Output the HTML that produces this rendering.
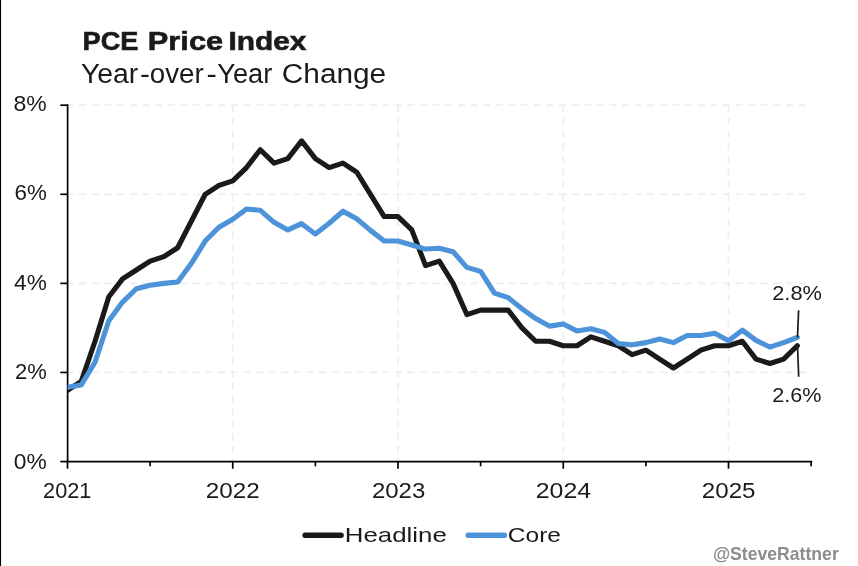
<!DOCTYPE html>
<html><head><meta charset="utf-8"><title>PCE Price Index</title>
<style>
html,body{margin:0;padding:0;background:#fff;}
body{width:858px;height:566px;overflow:hidden;font-family:"Liberation Sans",sans-serif;}
svg{display:block;will-change:transform;}
text{font-family:"Liberation Sans",sans-serif;fill:#1a1a1a;}
</style></head><body>
<svg width="858" height="566" viewBox="0 0 858 566">
<rect x="0" y="0" width="858" height="566" fill="#ffffff"/>
<rect x="0" y="0" width="1" height="566" fill="#000"/>
<rect x="1" y="0" width="1" height="566" fill="#ededed"/>

<g stroke="#eeeeee" stroke-width="1.7" fill="none" stroke-dasharray="7.1 5.52">
<line x1="66.70" y1="372.46" x2="811.50" y2="372.46"/>
<line x1="66.70" y1="283.38" x2="811.50" y2="283.38"/>
<line x1="66.70" y1="194.29" x2="811.50" y2="194.29"/>
<line x1="66.70" y1="105.20" x2="811.50" y2="105.20"/>
<line x1="232.75" y1="105.20" x2="232.75" y2="461.55"/>
<line x1="398.00" y1="105.20" x2="398.00" y2="461.55"/>
<line x1="563.25" y1="105.20" x2="563.25" y2="461.55"/>
<line x1="728.50" y1="105.20" x2="728.50" y2="461.55"/>
</g>
<g stroke="#000" stroke-width="1.7" fill="none">
<line x1="67.60" y1="104.35" x2="67.60" y2="462.40"/>
<line x1="66.75" y1="461.55" x2="812.25" y2="461.55"/>
<line x1="60.30" y1="461.55" x2="67.50" y2="461.55"/>
<line x1="60.30" y1="372.46" x2="67.50" y2="372.46"/>
<line x1="60.30" y1="283.38" x2="67.50" y2="283.38"/>
<line x1="60.30" y1="194.29" x2="67.50" y2="194.29"/>
<line x1="60.30" y1="105.20" x2="67.50" y2="105.20"/>
<line x1="67.50" y1="461.55" x2="67.50" y2="468.70"/>
<line x1="232.75" y1="461.55" x2="232.75" y2="468.70"/>
<line x1="398.00" y1="461.55" x2="398.00" y2="468.70"/>
<line x1="563.25" y1="461.55" x2="563.25" y2="468.70"/>
<line x1="728.50" y1="461.55" x2="728.50" y2="468.70"/>
<line x1="150.12" y1="461.55" x2="150.12" y2="466.30"/>
<line x1="315.38" y1="461.55" x2="315.38" y2="466.30"/>
<line x1="480.62" y1="461.55" x2="480.62" y2="466.30"/>
<line x1="645.88" y1="461.55" x2="645.88" y2="466.30"/>
<line x1="811.12" y1="461.55" x2="811.12" y2="466.30"/>
</g>
<clipPath id="plot"><rect x="67.60" y="102.20" width="760.00" height="359.35"/></clipPath>
<g clip-path="url(#plot)">
<polyline points="67.50,390.28 81.27,381.37 95.04,341.28 108.81,296.74 122.58,278.92 136.35,270.01 150.12,261.10 163.90,256.65 177.67,247.74 191.44,221.01 205.21,194.29 218.98,185.38 232.75,180.92 246.52,167.56 260.29,149.74 274.06,163.11 287.83,158.65 301.60,140.83 315.38,158.65 329.15,167.56 342.92,163.11 356.69,172.02 370.46,194.29 384.23,216.56 398.00,216.56 411.77,229.92 425.54,265.56 439.31,261.10 453.08,283.38 466.85,314.56 480.62,310.10 494.40,310.10 508.17,310.10 521.94,327.92 535.71,341.28 549.48,341.28 563.25,345.74 577.02,345.74 590.79,336.83 604.56,341.28 618.33,345.74 632.10,354.64 645.88,350.19 659.65,359.10 673.42,368.01 687.19,359.10 700.96,350.19 714.73,345.74 728.50,345.74 742.27,341.28 756.04,359.10 769.81,363.55 783.58,359.10 797.35,345.74" fill="none" stroke="#1a1a1a" stroke-width="5.1" stroke-linejoin="round" stroke-linecap="round"/>
<polyline points="67.50,387.16 81.27,384.93 95.04,362.22 108.81,320.79 122.58,302.08 136.35,288.72 150.12,285.16 163.90,283.38 177.67,282.04 191.44,263.33 205.21,241.06 218.98,227.25 232.75,219.23 246.52,208.99 260.29,210.32 274.06,222.35 287.83,229.92 301.60,223.69 315.38,233.93 329.15,223.24 342.92,211.21 356.69,218.79 370.46,230.37 384.23,241.06 398.00,241.06 411.77,245.07 425.54,249.08 439.31,248.19 453.08,251.75 466.85,267.34 480.62,271.35 494.40,293.17 508.17,297.63 521.94,308.76 535.71,318.56 549.48,326.14 563.25,323.91 577.02,331.04 590.79,328.81 604.56,332.37 618.33,343.51 632.10,344.85 645.88,342.62 659.65,339.05 673.42,342.62 687.19,335.49 700.96,335.49 714.73,333.26 728.50,340.84 742.27,330.15 756.04,340.39 769.81,347.07 783.58,342.62 797.35,337.27" fill="none" stroke="#4d93d9" stroke-width="5.1" stroke-linejoin="round" stroke-linecap="round"/>
</g>
<g stroke="#1a1a1a" stroke-width="1.7" fill="none">
<line x1="797.5" y1="337.5" x2="798.6" y2="310.2"/>
<line x1="797.5" y1="345.4" x2="798.7" y2="376.7"/>
</g>
<text x="13.58" y="111.30" font-size="21.30" textLength="33.23" lengthAdjust="spacingAndGlyphs">8%</text>
<text x="14.48" y="200.45" font-size="21.30" textLength="32.31" lengthAdjust="spacingAndGlyphs">6%</text>
<text x="14.05" y="289.65" font-size="21.30" textLength="32.75" lengthAdjust="spacingAndGlyphs">4%</text>
<text x="15.00" y="379.40" font-size="21.30" textLength="31.78" lengthAdjust="spacingAndGlyphs">2%</text>
<text x="13.79" y="468.60" font-size="21.30" textLength="33.02" lengthAdjust="spacingAndGlyphs">0%</text>
<text x="43.12" y="497.70" font-size="21.30" textLength="48.27" lengthAdjust="spacingAndGlyphs">2021</text>
<text x="205.79" y="497.70" font-size="21.30" textLength="53.94" lengthAdjust="spacingAndGlyphs">2022</text>
<text x="371.90" y="497.70" font-size="21.30" textLength="53.37" lengthAdjust="spacingAndGlyphs">2023</text>
<text x="535.75" y="497.70" font-size="21.30" textLength="55.51" lengthAdjust="spacingAndGlyphs">2024</text>
<text x="701.89" y="497.70" font-size="21.30" textLength="53.68" lengthAdjust="spacingAndGlyphs">2025</text>
<text x="772.21" y="300.20" font-size="21.10" textLength="49.75" lengthAdjust="spacingAndGlyphs">2.8%</text>
<text x="772.22" y="402.40" font-size="21.10" textLength="49.23" lengthAdjust="spacingAndGlyphs">2.6%</text>
<text x="82.58" y="50.00" font-size="25.90" textLength="55.92" lengthAdjust="spacingAndGlyphs" font-weight="bold" stroke="#1a1a1a" stroke-width="0.6">PCE</text>
<text x="147.83" y="50.00" font-size="25.90" textLength="75.30" lengthAdjust="spacingAndGlyphs" font-weight="bold" stroke="#1a1a1a" stroke-width="0.6">Price</text>
<text x="228.40" y="50.00" font-size="25.90" textLength="78.07" lengthAdjust="spacingAndGlyphs" font-weight="bold" stroke="#1a1a1a" stroke-width="0.6">Index</text>
<text x="81.00" y="82.50" font-size="27.00" textLength="57.30" lengthAdjust="spacingAndGlyphs">Year</text>
<text x="140.00" y="82.50" font-size="27.00" textLength="9.90" lengthAdjust="spacingAndGlyphs">-</text>
<text x="149.79" y="82.50" font-size="27.00" textLength="53.93" lengthAdjust="spacingAndGlyphs">over</text>
<text x="206.50" y="82.50" font-size="27.00" textLength="10.30" lengthAdjust="spacingAndGlyphs">-</text>
<text x="217.30" y="82.50" font-size="27.00" textLength="55.00" lengthAdjust="spacingAndGlyphs">Year</text>
<text x="281.82" y="82.50" font-size="27.00" textLength="104.40" lengthAdjust="spacingAndGlyphs">Change</text>
<line x1="305.2" y1="535.2" x2="341.0" y2="535.2" stroke="#1a1a1a" stroke-width="5.6" stroke-linecap="round"/>
<text x="344.83" y="541.70" font-size="21.00" textLength="101.99" lengthAdjust="spacingAndGlyphs">Headline</text>
<line x1="468.3" y1="535.2" x2="504.3" y2="535.2" stroke="#4d93d9" stroke-width="5.6" stroke-linecap="round"/>
<text x="507.88" y="541.70" font-size="21.00" textLength="53.09" lengthAdjust="spacingAndGlyphs">Core</text>
<text x="712.90" y="559.80" font-size="17.70" textLength="125.90" lengthAdjust="spacingAndGlyphs" font-weight="bold" style="fill:#8c8c8c">@SteveRattner</text>
</svg></body></html>
